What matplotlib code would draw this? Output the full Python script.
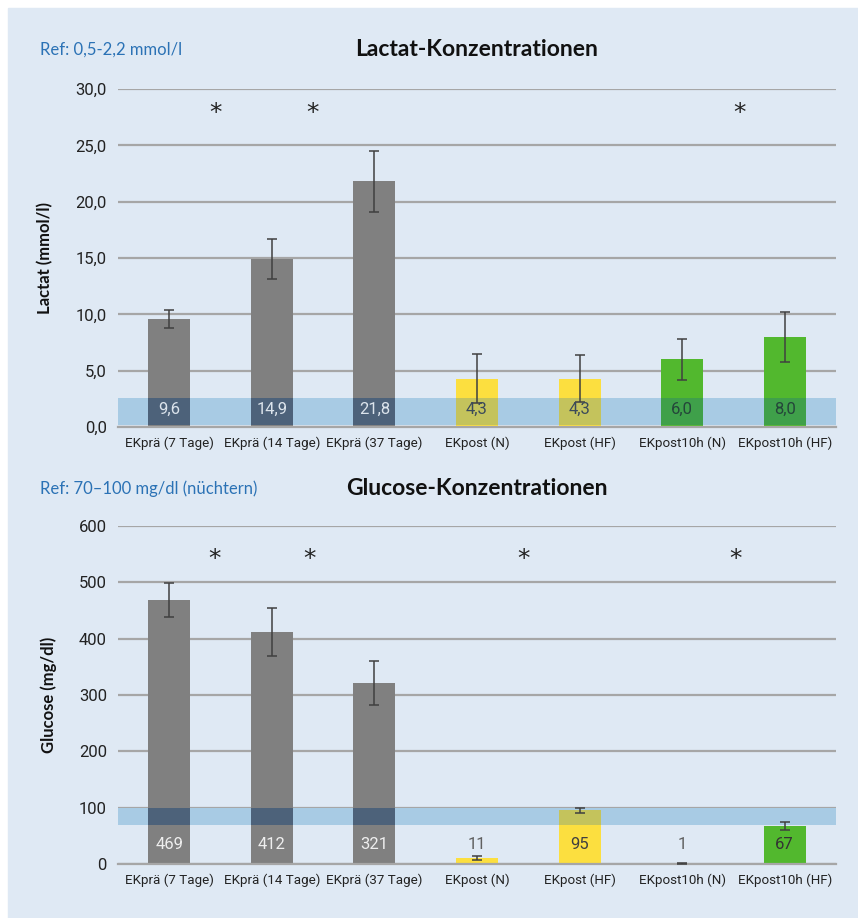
"""
Lactat- und Glucose-Konzentrationen in Erythrozytenkonzentraten,
zwei Balkendiagramme mit Referenzbereich und Signifikanzsternen.
"""

import matplotlib
matplotlib.use("Agg")
import matplotlib.pyplot as plt
import numpy as np
from matplotlib.ticker import FuncFormatter, MultipleLocator

# ---------------------------------------------------------------------------
# Daten
categories = [
    "EKprä (7 Tage)", "EKprä (14 Tage)", "EKprä (37 Tage)",
    "EKpost (N)", "EKpost (HF)", "EKpost10h (N)", "EKpost10h (HF)",
]

lactat_mean = [9.6, 14.9, 21.8, 4.3, 4.3, 6.0, 8.0]
lactat_err = [0.8, 1.8, 2.7, 2.2, 2.1, 1.8, 2.2]
lactat_band = (0.2, 2.6)
lactat_stars = [0.45, 1.4, 5.56]

glucose_mean = [469, 412, 321, 11, 95, 1, 67]
glucose_err = [30, 43, 39, 4, 4, 1, 7]
glucose_band = (70, 100)
glucose_stars = [0.44, 1.37, 3.45, 5.52]

# ---------------------------------------------------------------------------
# Farben
BG = "#dfe9f4"
BAND = "#a8cbe4"
GRID = "#a6a6a6"
GREY, YELLOW, GREEN = "#808080", "#fcdf3f", "#52b82e"
# Farbe der Balken dort, wo das Referenzband darüberliegt
GREY_IN, YELLOW_IN, GREEN_IN = "#4d627a", "#c4c35c", "#3fa04a"
REF_BLUE = "#2b72b5"

bar_colors = [GREY, GREY, GREY, YELLOW, YELLOW, GREEN, GREEN]
band_colors = [GREY_IN, GREY_IN, GREY_IN, YELLOW_IN, YELLOW_IN, GREEN_IN, GREEN_IN]

NARROW = ["Roboto", "DejaVu Sans"]
TITLE_FONT = ["Lato", "DejaVu Sans"]

plt.rcParams["font.family"] = NARROW


def de_fmt(decimals):
    def _f(v, _pos):
        return f"{v:.{decimals}f}".replace(".", ",")
    return FuncFormatter(_f)


def draw_panel(ax, values, errors, band, stars, star_y, ymax, step,
               decimals, label_y, label_colors, ylabel):
    x = np.arange(len(values))
    values = np.asarray(values, dtype=float)

    ax.set_facecolor(BG)
    ax.axhspan(band[0], band[1], color=BAND, zorder=1, lw=0)
    ax.bar(x, values, width=0.41, color=bar_colors, zorder=2)

    # Teil der Balken innerhalb des Referenzbands
    lo, hi = band
    overlap = np.clip(values, lo, hi) - lo
    ax.bar(x, overlap, bottom=lo, width=0.41, color=band_colors, zorder=3)

    ax.errorbar(x, values, yerr=errors, fmt="none", ecolor="#404040",
                elinewidth=1.1, capsize=3.5, capthick=1.1, zorder=5)

    for xi, v, c in zip(x, values, label_colors):
        txt = f"{v:.{decimals}f}".replace(".", ",")
        ax.text(xi, label_y, txt, ha="center", va="center", fontsize=12,
                color=c, zorder=6)

    # Signifikanzsterne
    for sx in stars:
        ax.text(sx, star_y, "*", ha="center", va="center", fontsize=18,
                family="DejaVu Sans", color="#222222", zorder=6)

    ax.set_xlim(-0.5, len(values) - 0.5)
    ax.set_ylim(0, ymax)
    ax.yaxis.set_major_locator(MultipleLocator(step))
    ax.yaxis.set_major_formatter(de_fmt(1 if decimals else 0))
    ax.set_xticks(x)
    ax.set_xticklabels(categories, fontsize=9.6, color="#222222")
    ax.tick_params(axis="x", length=0, pad=7)
    ax.tick_params(axis="y", length=0, pad=8, labelsize=12,
                   labelcolor="#222222")
    ax.grid(axis="y", color=GRID, linewidth=1.6, zorder=0)
    ax.set_axisbelow(True)
    for side in ("top", "right", "left"):
        ax.spines[side].set_visible(False)
    ax.spines["bottom"].set_color(GRID)
    ax.spines["bottom"].set_linewidth(1.6)
    ax.spines["bottom"].set_zorder(4)
    ax.set_ylabel(ylabel, fontsize=12, fontweight="bold", family=TITLE_FONT,
                  color="#111111", labelpad=16)


fig = plt.figure(figsize=(8.58, 9.18), dpi=100)
fig.patch.set_facecolor("white")
fig.patches.append(plt.Rectangle((8 / 858, 0), 1, 1 - 8 / 918,
                                 transform=fig.transFigure, color=BG,
                                 zorder=-10))

ax1 = fig.add_axes([118 / 858, 1 - 427 / 918, 718 / 858, 338 / 918])
ax2 = fig.add_axes([118 / 858, 1 - 864 / 918, 718 / 858, 338 / 918])

lactat_text = ["#dce4ec"] * 3 + ["#3b4a5a"] * 2 + ["#24463a"] * 2
glucose_text = ["#eeeeee"] * 3 + ["#606060", "#404040", "#606060", "#333333"]

draw_panel(ax1, lactat_mean, lactat_err, lactat_band, lactat_stars, 27.85,
           30, 5, 1, 1.6, lactat_text, "Lactat (mmol/l)")
draw_panel(ax2, glucose_mean, glucose_err, glucose_band, glucose_stars, 541,
           600, 100, 0, 34, glucose_text, "Glucose (mg/dl)")

fig.text(477 / 858, 1 - 50 / 918, "Lactat-Konzentrationen", ha="center",
         va="center", fontsize=16.5, fontweight="bold", family=TITLE_FONT,
         color="#111111")
fig.text(40 / 858, 1 - 50 / 918, "Ref: 0,5-2,2 mmol/l", ha="left",
         va="center", fontsize=12, family=TITLE_FONT, color=REF_BLUE)
fig.text(477 / 858, 1 - 488 / 918, "Glucose-Konzentrationen", ha="center",
         va="center", fontsize=16.5, fontweight="bold", family=TITLE_FONT,
         color="#111111")
fig.text(40 / 858, 1 - 489 / 918, "Ref: 70\u2013100 mg/dl (nüchtern)",
         ha="left", va="center", fontsize=12, family=TITLE_FONT,
         color=REF_BLUE)

fig.savefig("out.png", dpi=100, facecolor=fig.get_facecolor())
